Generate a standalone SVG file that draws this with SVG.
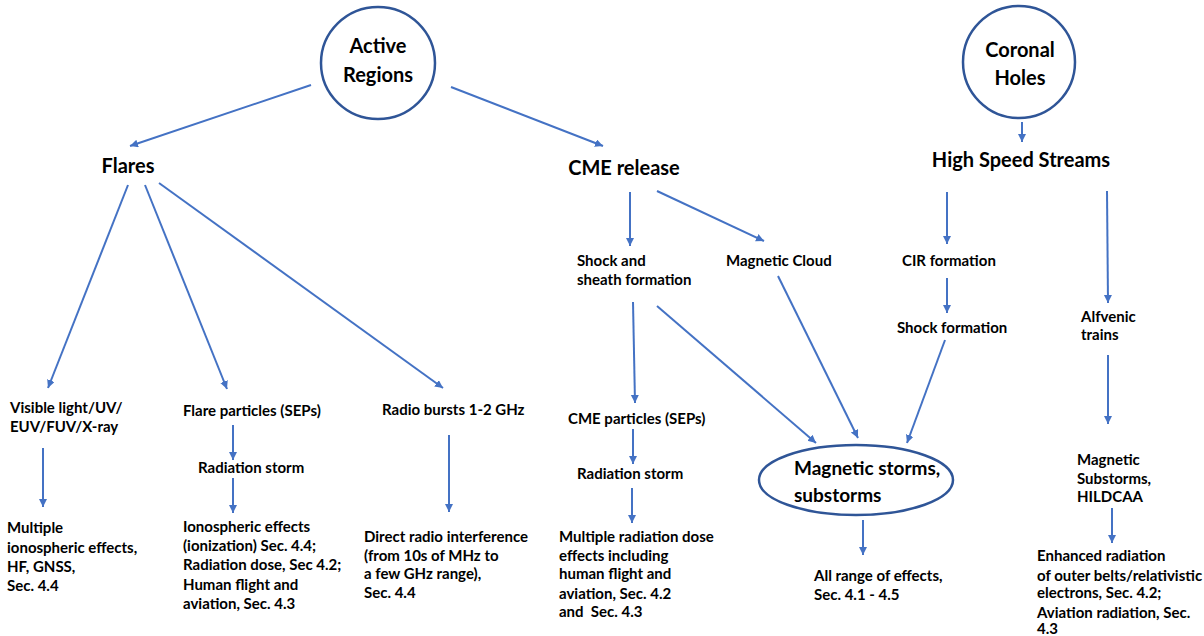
<svg xmlns="http://www.w3.org/2000/svg" width="1204" height="636" viewBox="0 0 1204 636">
<style>
text{font-family:Lato,"Liberation Sans",sans-serif;font-weight:bold;fill:#000}
.s{font-size:15px}
.b{font-size:20px}
.e{font-size:19px}
.node{fill:none;stroke:#2F5597;stroke-width:2.5}
.c line{stroke:#4472C4;stroke-width:2;marker-end:url(#a)}
</style>
<defs>
<marker id="a" markerUnits="userSpaceOnUse" markerWidth="10" markerHeight="10" refX="8" refY="4" orient="auto">
<path d="M0,0 L8,4 L0,8 z" fill="#4472C4"/>
</marker>
</defs>
<rect width="1204" height="636" fill="#fff"/>
<g class="c" id="connectors">
<line x1="311" y1="85" x2="130" y2="146"/>
<line x1="451" y1="87" x2="603" y2="146"/>
<line x1="1022" y1="122" x2="1022" y2="142"/>
<line x1="128" y1="185" x2="48" y2="388"/>
<line x1="145" y1="185" x2="227" y2="389"/>
<line x1="159" y1="183" x2="443" y2="388"/>
<line x1="43" y1="448" x2="43" y2="507"/>
<line x1="233" y1="425" x2="233" y2="460"/>
<line x1="233" y1="478" x2="233" y2="513"/>
<line x1="449" y1="435" x2="449" y2="512"/>
<line x1="630" y1="192" x2="630" y2="246"/>
<line x1="657" y1="191" x2="764" y2="241"/>
<line x1="633" y1="302" x2="635" y2="403"/>
<line x1="657" y1="306" x2="816" y2="443"/>
<line x1="778" y1="276" x2="858" y2="438"/>
<line x1="947" y1="192" x2="947" y2="244"/>
<line x1="947" y1="278" x2="947" y2="313"/>
<line x1="945" y1="340" x2="907" y2="443"/>
<line x1="1107" y1="191" x2="1108" y2="303"/>
<line x1="1108" y1="355" x2="1108" y2="424"/>
<line x1="1112" y1="508" x2="1112" y2="543"/>
<line x1="633" y1="429" x2="633" y2="464"/>
<line x1="632" y1="488" x2="632" y2="523"/>
<line x1="863" y1="520" x2="863" y2="555"/>
</g>
<g id="active-regions">
<ellipse class="node" cx="378" cy="63" rx="57" ry="56"/>
<text class="b" x="378" y="53" text-anchor="middle">Active</text>
<text class="b" x="378" y="82" text-anchor="middle">Regions</text>
</g>
<g id="coronal-holes">
<ellipse class="node" cx="1019" cy="62" rx="56" ry="56"/>
<text class="b" x="1020" y="57" text-anchor="middle">Coronal</text>
<text class="b" x="1020" y="85" text-anchor="middle">Holes</text>
</g>
<g id="flares"><text class="b" x="128" y="173" text-anchor="middle">Flares</text></g>
<g id="cme-release"><text class="b" x="624" y="175" text-anchor="middle">CME release</text></g>
<g id="hss"><text class="b" x="1021" y="167" text-anchor="middle">High Speed Streams</text></g>
<g id="visible">
<text class="s" x="10" y="413">Visible light/UV/</text>
<text class="s" x="10" y="432">EUV/FUV/X-ray</text>
</g>
<g id="multiple-iono">
<text class="s" x="7" y="533">Multiple</text>
<text class="s" x="7" y="553">ionospheric effects,</text>
<text class="s" x="7" y="572">HF, GNSS,</text>
<text class="s" x="7" y="591">Sec. 4.4</text>
</g>
<g id="flare-particles"><text class="s" x="183" y="416">Flare particles (SEPs)</text></g>
<g id="radiation-storm-1"><text class="s" x="198" y="473">Radiation storm</text></g>
<g id="iono-effects">
<text class="s" x="183" y="532">Ionospheric effects</text>
<text class="s" x="183" y="551">(ionization) Sec. 4.4;</text>
<text class="s" x="183" y="570">Radiation dose, Sec 4.2;</text>
<text class="s" x="183" y="590">Human flight and</text>
<text class="s" x="183" y="609">aviation, Sec. 4.3</text>
</g>
<g id="radio-bursts"><text class="s" x="382" y="415">Radio bursts 1-2 GHz</text></g>
<g id="direct-radio">
<text class="s" x="364" y="542">Direct radio interference</text>
<text class="s" x="364" y="561">(from 10s of MHz to</text>
<text class="s" x="364" y="579">a few GHz range),</text>
<text class="s" x="364" y="598">Sec. 4.4</text>
</g>
<g id="shock-sheath">
<text class="s" x="577" y="266">Shock and</text>
<text class="s" x="577" y="285">sheath formation</text>
</g>
<g id="magnetic-cloud"><text class="s" x="726" y="266">Magnetic Cloud</text></g>
<g id="cir"><text class="s" x="902" y="266">CIR formation</text></g>
<g id="shock-formation"><text class="s" x="897" y="333">Shock formation</text></g>
<g id="alfvenic">
<text class="s" x="1081" y="322">Alfvenic</text>
<text class="s" x="1081" y="340">trains</text>
</g>
<g id="cme-particles"><text class="s" x="568" y="424">CME particles (SEPs)</text></g>
<g id="radiation-storm-2"><text class="s" x="577" y="479">Radiation storm</text></g>
<g id="multiple-dose">
<text class="s" x="559" y="542">Multiple radiation dose</text>
<text class="s" x="559" y="561">effects including</text>
<text class="s" x="559" y="579">human flight and</text>
<text class="s" x="559" y="599">aviation, Sec. 4.2</text>
<text class="s" x="559" y="617">and&#160; Sec. 4.3</text>
</g>
<g id="magnetic-storms">
<ellipse class="node" cx="856" cy="480" rx="97" ry="35"/>
<text class="e" x="794" y="475">Magnetic storms,</text>
<text class="e" x="794" y="502">substorms</text>
</g>
<g id="all-range">
<text class="s" x="814" y="581">All range of effects,</text>
<text class="s" x="814" y="600">Sec. 4.1 - 4.5</text>
</g>
<g id="magnetic-substorms">
<text class="s" x="1077" y="465">Magnetic</text>
<text class="s" x="1077" y="484">Substorms,</text>
<text class="s" x="1077" y="502">HILDCAA</text>
</g>
<g id="enhanced-radiation">
<text class="s" x="1037" y="561">Enhanced radiation</text>
<text class="s" x="1037" y="581">of outer belts/relativistic</text>
<text class="s" x="1037" y="598">electrons, Sec. 4.2;</text>
<text class="s" x="1037" y="618">Aviation radiation, Sec.</text>
<text class="s" x="1037" y="634">4.3</text>
</g>
</svg>
